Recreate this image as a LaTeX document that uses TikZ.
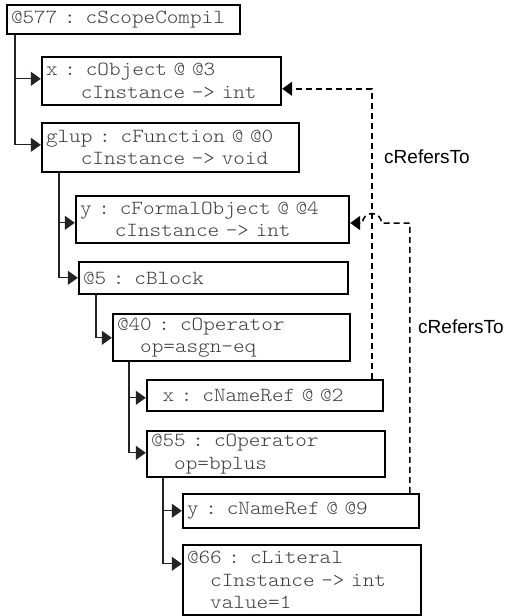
\documentclass[tikz,border=0pt]{standalone}
\usepackage{fontspec}
\setmainfont{Liberation Sans}
\setmonofont[FakeStretch=1.105]{Latin Modern Mono Light}
\usetikzlibrary{arrows.meta,calc}
\definecolor{txtgray}{RGB}{60,60,60}
\definecolor{linegray}{RGB}{35,35,35}
\begin{document}
\begin{tikzpicture}[x=1pt,y=1pt,
  box/.style={draw=black, line width=2.4pt, rectangle, inner xsep=4pt, inner ysep=0pt,
    align=left, font=\ttfamily\fontsize{20pt}{22.5pt}\selectfont, text=txtgray},
  tree/.style={draw=linegray, line width=1.2pt, -{Triangle[length=10pt,width=14pt]}},
  ref/.style={draw=black, line width=1.5pt, dash pattern=on 6pt off 4pt,
    -{Triangle[length=10pt,width=14pt]}},
  lbl/.style={font=\fontsize{19pt}{22pt}\selectfont, text=black}]
\useasboundingbox (0,0) rectangle (508,-616);

\node[box, minimum width=233pt, minimum height=29pt, text width=225pt] (b1) at (123.5,-19.5)
  {@577 : cScopeCompil};
\node[box, minimum width=239pt, minimum height=48pt, text width=231pt] (b2) at (161.5,-81)
  {x : cObject @ @3\\\hphantom{xxx}cInstance -> int};
\node[box, minimum width=257pt, minimum height=49pt, text width=249pt] (b3) at (170.5,-147.5)
  {glup : cFunction @ @0\\\hphantom{xxx}cInstance -> void};
\node[box, minimum width=273pt, minimum height=47pt, text width=265pt] (b4) at (212.5,-219.5)
  {y : cFormalObject @ @4\\\hphantom{xxx}cInstance -> int};
\node[box, minimum width=269pt, minimum height=32pt, text width=261pt] (b5) at (213.5,-278)
  {@5 : cBlock};
\node[box, minimum width=237pt, minimum height=47pt, text width=229pt] (b6) at (231.5,-337.5)
  {@40 : cOperator\\\hphantom{xx}op=asgn-eq};
\node[box, minimum width=236pt, minimum height=31pt, text width=228pt] (b7) at (265,-395.5)
  {\hphantom{x}x : cNameRef @ @2};
\node[box, minimum width=238pt, minimum height=46pt, text width=230pt] (b8) at (266,-454)
  {@55 : cOperator\\\hphantom{xx}op=bplus};
\node[box, minimum width=236pt, minimum height=34pt, text width=228pt] (b9) at (301,-511)
  {y : cNameRef @ @9};
\node[box, minimum width=238pt, minimum height=70pt, text width=230pt] (b10) at (302,-580)
  {@66 : cLiteral\\\hphantom{xx}cInstance -> int\\\hphantom{xx}value=1};

% tree connectors
\draw[tree] ($(b1.south west)+(9.2pt,0)$) |- ($(b2.north west)+(0,-23pt)$);
\draw[tree] ($(b1.south west)+(9.2pt,0)$) |- ($(b3.north west)+(0,-23pt)$);
\draw[tree] ($(b3.south west)+(18.2pt,0)$) |- ($(b4.north west)+(0,-28pt)$);
\draw[tree] ($(b3.south west)+(18.2pt,0)$) |- ($(b5.north west)+(0,-17pt)$);
\draw[tree] ($(b5.south west)+(18.2pt,0)$) |- ($(b6.north west)+(0,-25pt)$);
\draw[tree] ($(b6.south west)+(17.2pt,0)$) |- ($(b7.north west)+(0,-19pt)$);
\draw[tree] ($(b6.south west)+(17.2pt,0)$) |- ($(b8.north west)+(0,-23pt)$);
\draw[tree] ($(b8.south west)+(17.2pt,0)$) |- ($(b9.north west)+(0,-18pt)$);
\draw[tree] ($(b8.south west)+(17.2pt,0)$) |- ($(b10.north west)+(0,-20pt)$);

% reference connectors
\coordinate (j1) at (381.5,-223);
\draw[ref] ($(b7.north west)+(226pt,0)$) |- ($(b2.north east)+(0,-33pt)$);
\draw[ref] ($(b9.north west)+(228pt,0)$) |- (j1)
  arc[start angle=0, end angle=180, radius=9.5pt] -- (b4.east |- j1);

\node[lbl] (l1) at (427,-157) {cRefersTo};
\node[lbl] (l2) at (461,-327) {cRefersTo};
\end{tikzpicture}
\end{document}
